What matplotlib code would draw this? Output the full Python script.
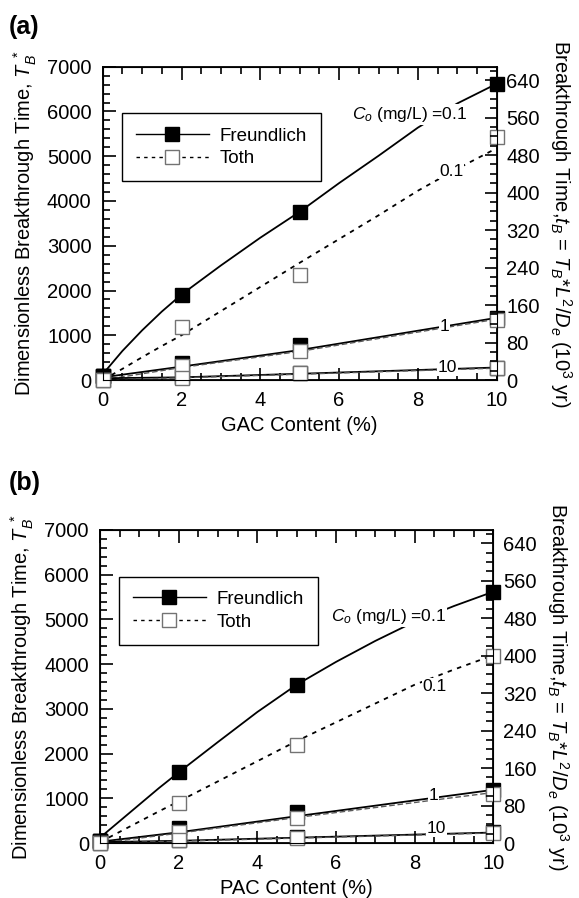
import matplotlib
matplotlib.use("Agg")
import matplotlib.pyplot as plt
from matplotlib.ticker import MultipleLocator

plt.rcParams['font.family'] = ['Liberation Sans', 'DejaVu Sans']
plt.rcParams['mathtext.fontset'] = 'custom'
plt.rcParams['mathtext.rm'] = 'Liberation Sans'
plt.rcParams['mathtext.it'] = 'Liberation Sans:italic'

# carbon content (%) where the points are
x_pts = [0, 2, 5, 10]
# x positions read for the model curves
x_curve = [0, 0.5, 1, 1.5, 2, 3, 4, 5, 6, 7, 8, 9, 10]

# (a) GAC  -- points
a_fr_01 = [80, 1910, 3760, 6620]
a_to_01 = [10, 1180, 2340, 5420]
a_fr_1 = [80, 390, 780, 1390]
a_to_1 = [10, 310, 650, 1340]
a_fr_10 = [80, 70, 150, 280]
a_to_10 = [10, 50, 150, 270]
# (a) curves
a_fr_01_c = [130, 650, 1110, 1530, 1910, 2560, 3180, 3760, 4400, 5010, 5640, 6180, 6620]
a_to_01_c = [0, 250, 510, 760, 1000, 1540, 2080, 2620, 3150, 3680, 4230, 4720, 5180]
a_fr_1_c = [60, 300, 670, 1390]
a_to_1_c = [0, 280, 640, 1360]
a_fr_10_c = [40, 60, 140, 280]
a_to_10_c = [0, 50, 130, 265]

# (b) PAC -- points
b_fr_01 = [50, 1580, 3540, 5620]
b_to_01 = [10, 900, 2190, 4190]
b_fr_1 = [50, 330, 700, 1190]
b_to_1 = [10, 240, 570, 1090]
b_fr_10 = [50, 60, 130, 240]
b_to_10 = [10, 70, 120, 230]
# (b) curves
b_fr_01_c = [120, 490, 860, 1230, 1580, 2260, 2930, 3540, 4050, 4520, 4950, 5300, 5620]
b_to_01_c = [20, 250, 480, 710, 930, 1380, 1830, 2280, 2700, 3120, 3540, 3880, 4200]
b_fr_1_c = [30, 240, 600, 1190]
b_to_1_c = [0, 220, 570, 1130]
b_fr_10_c = [20, 50, 120, 235]
b_to_10_c = [0, 40, 110, 225]

scale = 0.0955   # T_B* -> 10^3 yr

# curve labels: text, x, y
a_labels = [("$C_o$ (mg/L) =0.1", 9.25, 5930), ("0.1", 9.15, 4670),
            ("1", 8.8, 1185), ("10", 9.0, 280)]
b_labels = [("$C_o$ (mg/L) =0.1", 8.8, 5063), ("0.1", 8.82, 3497),
            ("1", 8.6, 1074), ("10", 8.8, 329)]

FS = 14.5
dots = (0, (2.5, 3))


def panel(rect, xlabel, fr, to, fr_c, to_c, labels):
    ax = fig.add_axes(rect)
    ax.plot(x_curve, fr_c[0], '-', color='k', lw=1.3, zorder=2)
    ax.plot(x_curve, to_c[0], color='k', lw=1.3, ls=dots, zorder=2)
    for k in (1, 2):
        ax.plot(x_pts, fr_c[k], '-', color='k', lw=1.3, zorder=2)
        ax.plot(x_pts, to_c[k], color='0.35', lw=1.0, ls=(0, (4, 2)), zorder=2)
    for s, xt, yt in labels:
        ax.text(xt, yt, s, ha='right', va='center', fontsize=12.5, zorder=3,
                bbox=dict(fc='white', ec='none', pad=0.5))
    for k in range(3):
        ax.plot(x_pts, fr[k], 's', ms=9.5, mfc='k', mec='k', ls='none', zorder=4,
                clip_on=False)
    for k in range(3):
        ax.plot(x_pts, to[k], 's', ms=9.5, mfc='white', mec='0.45', mew=1.0,
                ls='none', zorder=5, clip_on=False)
    # legend handles
    h1, = ax.plot([], [], '-s', color='k', ms=9.5, mfc='k', lw=1.0)
    h2, = ax.plot([], [], color='k', ls=dots, lw=1.0, marker='s', ms=9.5,
                  mfc='white', mec='0.45')
    leg = ax.legend([h1, h2], ['Freundlich', 'Toth'], loc='upper left',
                    bbox_to_anchor=(0.048, 0.851), fontsize=13.5, handlelength=3.9,
                    fancybox=False, framealpha=1, edgecolor='k', borderpad=0.75,
                    handletextpad=0.55, labelspacing=0.3, borderaxespad=0)
    leg.get_frame().set_linewidth(1.0)
    ax.set_xlim(0, 10)
    ax.set_ylim(0, 7000)
    ax.xaxis.set_major_locator(MultipleLocator(2))
    ax.xaxis.set_minor_locator(MultipleLocator(0.5))
    ax.yaxis.set_major_locator(MultipleLocator(1000))
    ax.yaxis.set_minor_locator(MultipleLocator(200))
    ax.tick_params(which='both', direction='in', top=True, right=False,
                   labelsize=FS, width=1.2)
    ax.tick_params(which='major', length=9, pad=8)
    ax.tick_params(which='minor', length=5)
    for sp in ax.spines.values():
        sp.set_linewidth(1.3)
    ax.set_xlabel(xlabel, fontsize=FS, labelpad=4)
    ax.set_ylabel("Dimensionless Breakthrough Time, $T_B^{\\ *}$", fontsize=FS,
                  labelpad=6)

    ax2 = ax.twinx()
    ax2.set_ylim(0, 7000 * scale)
    ax2.yaxis.set_major_locator(MultipleLocator(80))
    ax2.yaxis.set_minor_locator(MultipleLocator(20))
    ax2.tick_params(which='both', direction='in', labelsize=FS, width=1.2)
    ax2.tick_params(which='major', length=9, pad=7)
    ax2.tick_params(which='minor', length=5)
    ax2.set_ylabel("Breakthrough Time,$t_B$ = $T_B$*$L^2$/$D_e$ (10$^3$ yr)",
                   fontsize=FS, rotation=-90, va='bottom', labelpad=6)
    return ax


fig = plt.figure(figsize=(5.79, 8.98), dpi=100)

panel([0.1774, 0.5768, 0.6805, 0.3489], "GAC Content (%)",
      [a_fr_01, a_fr_1, a_fr_10], [a_to_01, a_to_1, a_to_10],
      [a_fr_01_c, a_fr_1_c, a_fr_10_c], [a_to_01_c, a_to_1_c, a_to_10_c], a_labels)
panel([0.1727, 0.0612, 0.6793, 0.3486], "PAC Content (%)",
      [b_fr_01, b_fr_1, b_fr_10], [b_to_01, b_to_1, b_to_10],
      [b_fr_01_c, b_fr_1_c, b_fr_10_c], [b_to_01_c, b_to_1_c, b_to_10_c], b_labels)

fig.text(0.015, 0.970, "(a)", fontsize=18, weight='bold', va='center')
fig.text(0.015, 0.462, "(b)", fontsize=18, weight='bold', va='center')

fig.savefig("out.png", dpi=100)
